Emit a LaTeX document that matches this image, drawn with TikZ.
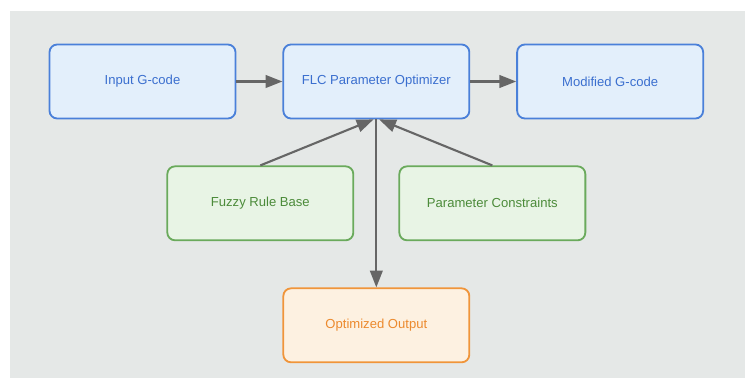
\documentclass[tikz,border=0pt]{standalone}
\usepackage{fontspec}
\setmainfont{Liberation Sans}
\usetikzlibrary{arrows.meta,positioning}
\definecolor{canvasgray}{HTML}{E5E8E7}
\definecolor{codeblue}{HTML}{4A80D9}
\definecolor{codefill}{HTML}{E3EFFB}
\definecolor{codetext}{HTML}{3B6FCF}
\definecolor{rulegreen}{HTML}{6AAA5C}
\definecolor{rulefill}{HTML}{E8F4E5}
\definecolor{ruletext}{HTML}{4C8B3A}
\definecolor{outorange}{HTML}{F0953A}
\definecolor{outfill}{HTML}{FDF1E1}
\definecolor{outtext}{HTML}{EC8A2E}
\definecolor{arrowgray}{HTML}{666666}
\tikzset{
  block/.style={
    rectangle, rounded corners=5.5pt, line width=1.3pt,
    minimum width=4.65cm, minimum height=1.85cm, align=center,
    font=\fontsize{9.3}{11}\selectfont
  },
  codeblock/.style={block, draw=codeblue, fill=codefill, text=codetext},
  ruleblock/.style={block, draw=rulegreen, fill=rulefill, text=ruletext},
  outblock/.style={block, draw=outorange, fill=outfill, text=outtext},
  arrow/.style={-{Triangle[length=12pt,width=9pt]}, line width=1.5pt, draw=arrowgray}
}

\begin{document}
\begin{tikzpicture}[node distance=1.15cm]
\useasboundingbox (0,0) rectangle (18.625,-9.45);
\fill[canvasgray] (0.25,-0.275) rectangle (18.625,-9.45);
% main chain
\node[codeblock] (gin) at (3.5625,-2.0375) {Input G-code};
\node[codeblock, right=of gin] (flc) {FLC Parameter Optimizer};
\node[codeblock, right=of flc] (gout) {Modified G-code};
% inputs to the optimizer
\node[ruleblock, below=of flc, xshift=-2.9cm] (rules) {Fuzzy Rule Base};
\node[ruleblock, below=of flc, xshift=2.9cm] (limits) {Parameter Constraints};
\node[outblock, below=4.2cm of flc] (opt) {Optimized Output};
\draw[arrow] (gin) -- (flc);
\draw[arrow] (flc) -- (gout);
\draw[arrow] (rules.north) -- ([xshift=-0.07cm]flc.south);
\draw[arrow] (limits.north) -- ([xshift=0.07cm]flc.south);
\draw[arrow] (flc.south) -- (opt.north);
\end{tikzpicture}
\end{document}
